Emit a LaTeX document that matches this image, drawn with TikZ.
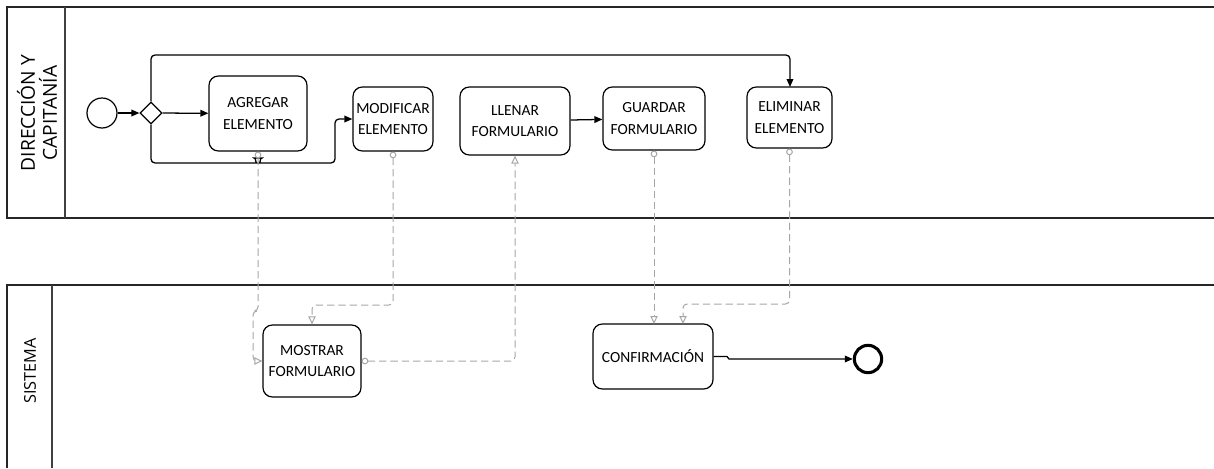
\documentclass[tikz,border=0pt]{standalone}
\usepackage{fontspec}
\setmainfont{Carlito}
\newfontfamily\lanefont{Open Sans}
\usetikzlibrary{arrows.meta,shapes.geometric}
\begin{document}
\begin{tikzpicture}[x=0.75pt,y=-0.75pt,
  task/.style={draw=black, line width=0.9pt, rounded corners=7pt, align=center,
    font=\fontsize{11.6}{16}\selectfont, inner sep=0pt},
  seq/.style={draw=black, line width=0.95pt, rounded corners=3pt, -{Triangle[length=6pt,width=5pt]}},
  msg/.style={draw=gray!70, line width=0.75pt, dash pattern=on 5.5pt off 3pt, rounded corners=3pt,
    {Circle[open,length=5pt,width=5pt,fill=white]}-{Triangle[open,length=6pt,width=5.5pt,fill=white]}},
  pool/.style={draw=black!85, line width=1.5pt},
  lanediv/.style={draw=black!75, line width=0.9pt},
  lanelabel/.style={rotate=90, align=center}]
\useasboundingbox (0,0) rectangle (1214,468);
% pools
\draw[pool] (1214,7) -- (7,7) -- (7,218) -- (1214,218);
\draw[lanediv] (65,7) -- (65,218);
\draw[pool] (7,468) -- (7,285) -- (1214,285);
\draw[lanediv] (52,285) -- (52,468);
\node[lanelabel, font=\lanefont\fontsize{14.4}{16.5}\selectfont] (l1) at (37,113) {DIRECCIÓN Y\\CAPITANÍA};
\node[lanelabel, font=\lanefont\fontsize{12.2}{14}\selectfont] (l2) at (30,371) {SISTEMA};
% events and gateway
\node[draw=black, line width=0.9pt, circle, minimum size=22.5pt, inner sep=0pt] (start) at (102,113) {};
\node[draw=black, line width=0.9pt, diamond, minimum size=16.5pt, inner sep=0pt, shape aspect=1] (gw) at (151,113) {};
\node[draw=black, line width=2.3pt, circle, minimum size=20.5pt, inner sep=0pt] (end) at (868,359) {};
% tasks
\node[task, minimum width=73.5pt, minimum height=56.25pt] (ag) at (258,113.5) {AGREGAR\\ELEMENTO};
\node[task, minimum width=60pt, minimum height=48pt] (mod) at (393,119) {MODIFICAR\\ELEMENTO};
\node[task, minimum width=82.5pt, minimum height=51pt] (lle) at (515,121) {LLENAR\\FORMULARIO};
\node[task, minimum width=76.5pt, minimum height=47.25pt] (gua) at (654,118.5) {GUARDAR\\FORMULARIO};
\node[task, minimum width=63.75pt, minimum height=45.75pt] (eli) at (789.5,117.5) {ELIMINAR\\ELEMENTO};
\node[task, minimum width=73.5pt, minimum height=54pt] (mos) at (312,361) {MOSTRAR\\FORMULARIO};
\node[task, minimum width=90pt, minimum height=48.75pt] (conf) at (653,356.5) {CONFIRMACIÓN};
% sequence flows
\draw[seq] (start) -- (gw);
\draw[seq] (gw) -- (ag);
\draw[seq] (gw.north) -- (151,55) -- (790,55) -- (790,87);
\draw[seq] (gw.south) -- (151,163) -- (253,163) .. controls (255,163) and (256.5,158) .. (258,158) .. controls (259.5,158) and (261,163) .. (263,163) -- (335,163) -- (335,119) -- (mod.west);
\draw[seq] (lle) -- (gua);
\draw[seq, rounded corners=0pt] (conf.east) -- (727,356.5) -- (729,359) -- (end.west);
% message flows
\draw[msg] (ag.south) -- (258,311) -- (253,311) -- (253,361) -- (mos.west);
\draw[msg] (mod.south) -- (393,305) -- (312,305) -- (mos.north);
\draw[msg] (mos.east) -- (515,361) -- (lle.south);
\draw[msg] (gua.south) -- (654,324);
\draw[msg] (eli.south) -- (789.5,304) -- (683,304) -- (683,324);
\end{tikzpicture}
\end{document}
